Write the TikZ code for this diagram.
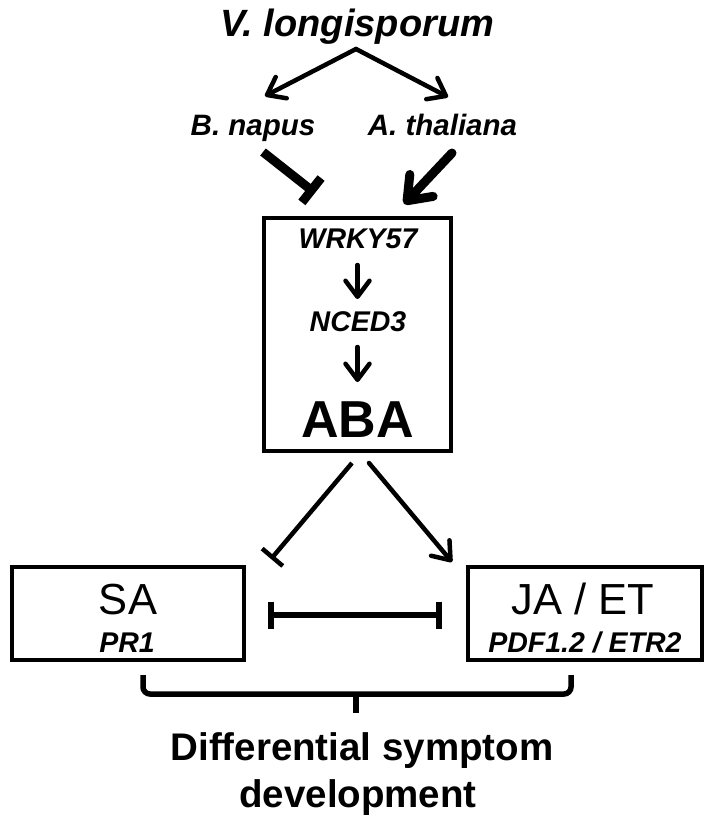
\documentclass[tikz,border=0pt]{standalone}
\usepackage{fontspec}
\setmainfont{Liberation Sans}
\usetikzlibrary{arrows.meta}
\begin{document}
\begin{tikzpicture}[x=1pt,y=-1pt,
  lab/.style={inner sep=0pt, anchor=base},
  gene/.style={lab, font=\fontsize{28.5}{30}\selectfont\bfseries\itshape},
  hormone/.style={lab, font=\fontsize{43.5}{45}\selectfont},
  bigbox/.style={draw, line width=4.5pt, inner sep=0pt},
  lnk/.style={line width=4.5pt, line cap=round, -{Straight Barb[length=16pt,width=24pt,round]}},
  fatlnk/.style={line width=9pt, line cap=round, -{Straight Barb[length=21pt,width=32pt,round]}},
  inh/.style={line width=4.5pt, -{Bar[width=27pt]}},
  fatinh/.style={line width=9pt, -{Bar[width=31pt]}},
  mutual/.style={line width=6pt, {Bar[width=27pt]}-{Bar[width=27pt]}},
]
\useasboundingbox (0,0) rectangle (709,828);

% top labels
\node[lab, font=\fontsize{38}{40}\selectfont\bfseries\itshape] (vl) at (357.5,36) {V. longisporum};
\node[lab, font=\fontsize{29.5}{31}\selectfont\bfseries\itshape] (bn) at (253,135) {B. napus};
\node[lab, font=\fontsize{29.5}{31}\selectfont\bfseries\itshape] (at) at (442.5,135) {A. thaliana};

% ABA box
\node[bigbox, minimum width=187pt, minimum height=233pt] (ababox) at (357.5,334.5) {};
\node[gene] (wrky) at (358,248) {WRKY57};
\node[gene] (nced) at (358,331) {NCED3};
\node[lab, font=\fontsize{52}{54}\selectfont\bfseries] (aba) at (357.5,437) {ABA};

% lower boxes
\node[bigbox, minimum width=232pt, minimum height=93pt] (sabox) at (128,613.5) {};
\node[hormone] (sa) at (128,614) {SA};
\node[gene] (pr1) at (127,652) {PR1};
\node[bigbox, minimum width=234pt, minimum height=93pt] (jabox) at (585,613.5) {};
\node[hormone] (ja) at (583,614) {JA / ET};
\node[gene] (pdf) at (585,652) {PDF1.2 / ETR2};

% result
\node[lab, font=\fontsize{38.5}{40}\selectfont\bfseries] (diff1) at (362,760) {Differential symptom};
\node[lab, font=\fontsize{38.5}{40}\selectfont\bfseries] (diff2) at (358,807) {development};

% connector end points
\coordinate (vlout) at (356,49);
\coordinate (bnin) at (265,96);
\coordinate (atin) at (448,97);
\coordinate (bnout) at (263,152);
\coordinate (bnend) at (315,193);
\coordinate (atout) at (452,153);
\coordinate (atend) at (404,204);
\coordinate (w1) at (357.5,265);
\coordinate (n1) at (357.5,299);
\coordinate (n2) at (357.5,347);
\coordinate (a1) at (357.5,382);
\coordinate (abaL) at (352,463);
\coordinate (saend) at (271,559);
\coordinate (abaR) at (369,463);
\coordinate (jaend) at (452,562);
\coordinate (saR) at (268,615);
\coordinate (jaL) at (442,615);

\draw[lnk] (vlout) -- (bnin);
\draw[lnk] (vlout) -- (atin);
\draw[fatinh] (bnout) -- (bnend);
\draw[fatlnk] (atout) -- (atend);
\draw[lnk] (w1) -- (n1);
\draw[lnk] (n2) -- (a1);
\draw[inh] (abaL) -- (saend);
\draw[lnk] (abaR) -- (jaend);
\draw[mutual] (saR) -- (jaL);

% brace
\coordinate (brL) at (143,675);
\coordinate (brR) at (571,675);
\coordinate (brM) at (356,694);
\coordinate (brT) at (356,713);
\draw[line width=5.5pt, rounded corners=7pt] (brL) -- (143,694) -- (571,694) -- (brR);
\draw[line width=5.5pt] (brM) -- (brT);
\end{tikzpicture}
\end{document}
